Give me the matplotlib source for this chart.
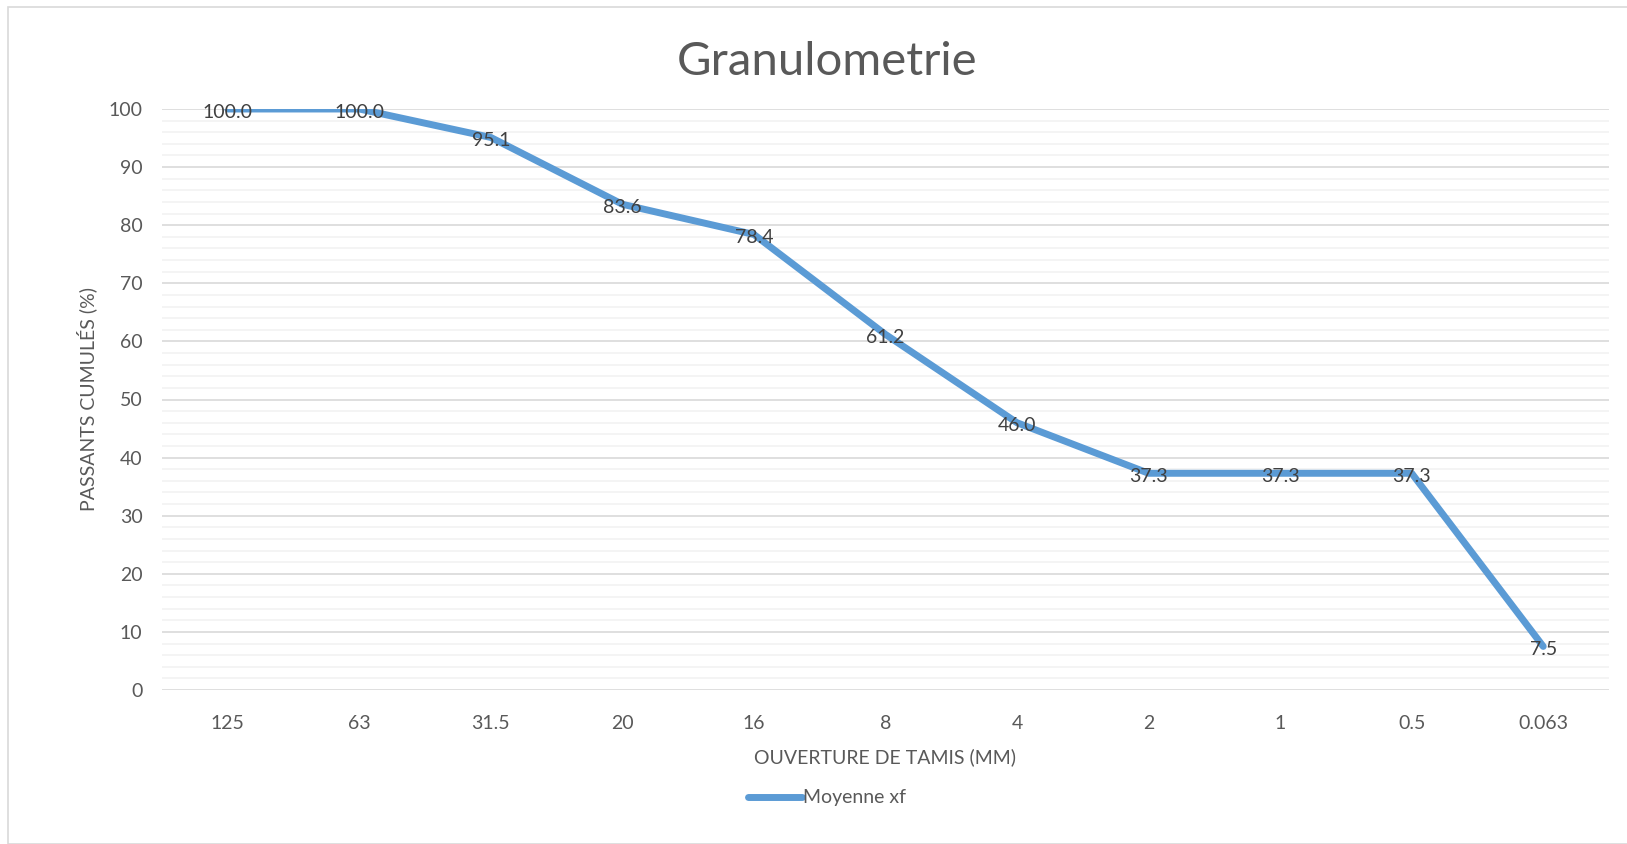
import matplotlib.pyplot as plt
from matplotlib.patches import Rectangle
from matplotlib.ticker import MultipleLocator
from matplotlib import transforms

# Données
tamis = ['125', '63', '31.5', '20', '16', '8', '4', '2', '1', '0.5', '0.063']
passants = [100.0, 100.0, 95.1, 83.6, 78.4, 61.2, 46.0, 37.3, 37.3, 37.3, 7.5]

plt.rcParams['font.family'] = ['Lato', 'DejaVu Sans']

W, H = 1627, 844
fig = plt.figure(figsize=(W / 100, H / 100), dpi=100)

# cadre extérieur
fig.patches.append(Rectangle((8 / W, 0), 1.0, 1 - 7 / H, transform=fig.transFigure,
                             fill=False, edgecolor='#D9D9D9', linewidth=1.2))

left, right, top, bottom = 162, 1609, 109, 690
ax = fig.add_axes([left / W, 1 - bottom / H, (right - left) / W, (bottom - top) / H])

x = range(len(tamis))
ax.plot(x, passants, color='#5B9BD5', linewidth=5, solid_capstyle='round',
        solid_joinstyle='round', label='Moyenne xf', zorder=3)

# étiquettes de données, légèrement sous le point
decal = transforms.offset_copy(ax.transData, fig=fig, x=0, y=-3, units='dots')
for xi, yi in zip(x, passants):
    ax.text(xi, yi, f'{yi:.1f}', ha='center', va='center', fontsize=14,
            color='#404040', zorder=4, transform=decal)

ax.set_xlim(-0.5, len(tamis) - 0.5)
ax.set_ylim(0, 100)
ax.yaxis.set_major_locator(MultipleLocator(10))
ax.yaxis.set_minor_locator(MultipleLocator(2))
ax.set_xticks(list(x))
ax.set_xticklabels(tamis)
ax.grid(True, which='major', axis='y', color='#D9D9D9', linewidth=1.2)
ax.grid(True, which='minor', axis='y', color='#F2F2F2', linewidth=1.2)
ax.set_axisbelow(True)
for s in ax.spines.values():
    s.set_visible(False)
ax.tick_params(axis='both', which='both', length=0, labelsize=14, colors='#595959')
ax.tick_params(axis='x', pad=18)
ax.tick_params(axis='y', pad=14)

fig.text(827 / W, 1 - 62 / H, 'Granulometrie', ha='center', va='center',
         fontsize=34, color='#595959')
ax.set_xlabel('OUVERTURE DE TAMIS (MM)', fontsize=14, color='#595959', labelpad=12)
ax.set_ylabel('PASSANTS CUMULÉS (%)', fontsize=14, color='#595959', labelpad=8)

fig.legend(loc='center', bbox_to_anchor=(827 / W, 1 - 798 / H), frameon=False,
           fontsize=14, handlelength=2.8, handletextpad=0.05, labelcolor='#595959')

fig.savefig('out.png', dpi=100)
